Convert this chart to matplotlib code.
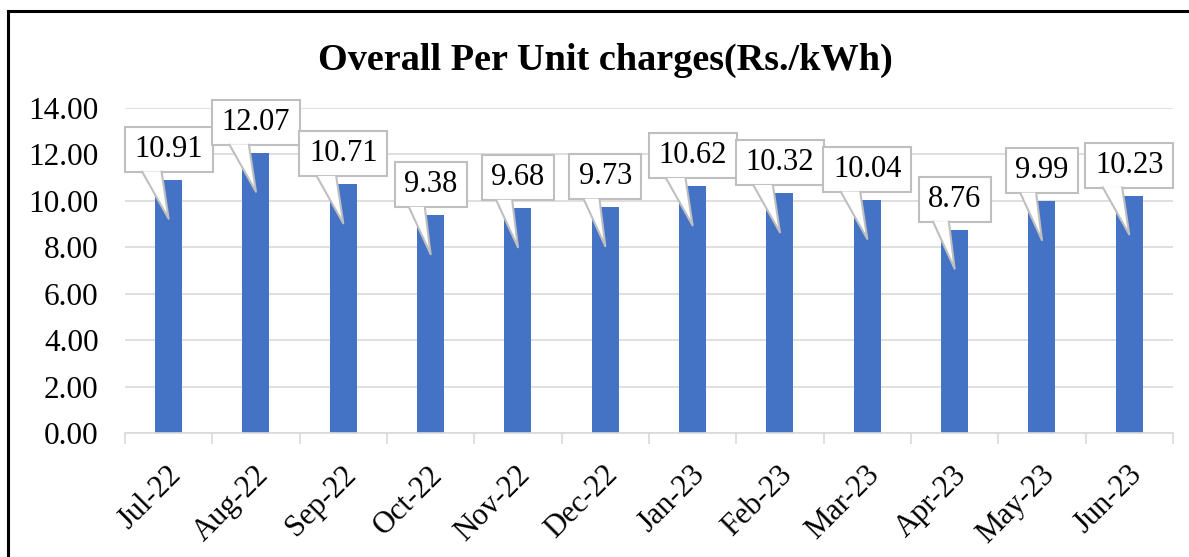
import matplotlib.pyplot as plt
import matplotlib.transforms as mtransforms
from matplotlib.patches import Rectangle, Polygon
from matplotlib.lines import Line2D

# data
months = ['Jul-22', 'Aug-22', 'Sep-22', 'Oct-22', 'Nov-22', 'Dec-22',
          'Jan-23', 'Feb-23', 'Mar-23', 'Apr-23', 'May-23', 'Jun-23']
charges = [10.91, 12.07, 10.71, 9.38, 9.68, 9.73,
           10.62, 10.32, 10.04, 8.76, 9.99, 10.23]
yticks = [0, 2, 4, 6, 8, 10, 12, 14]

plt.rcParams['font.family'] = 'Liberation Serif'

fig = plt.figure(figsize=(11.89, 5.57), dpi=100)
ax = fig.add_axes([0.1051, 0.2226, 0.8814, 0.5835])

x = list(range(len(months)))
ax.bar(x, charges, width=0.31, color='#4472C4', zorder=2)

ax.set_xlim(-0.5, len(months) - 0.5)
ax.set_ylim(0, 14)
ax.set_yticks(yticks)
ax.set_yticklabels([f'{v:.2f}' for v in yticks], fontsize=22.5)
ax.tick_params(axis='y', length=0, pad=19)
ax.grid(axis='y', color='#D9D9D9', linewidth=1.2, zorder=0)
ax.set_axisbelow(True)

for s in ['top', 'right', 'left']:
    ax.spines[s].set_visible(False)
ax.spines['bottom'].set_color('#D9D9D9')
ax.spines['bottom'].set_linewidth(1.2)

# category boundary ticks
ax.set_xticks([i - 0.5 for i in range(len(months) + 1)], minor=True)
ax.tick_params(axis='x', which='minor', length=8, color='#D9D9D9', width=1.2)
ax.set_xticks(x)
ax.set_xticklabels(months, rotation=45, ha='right', va='center',
                   rotation_mode='anchor', fontsize=22)
ax.tick_params(axis='x', which='major', length=0, pad=27)
shift = mtransforms.ScaledTranslation(8 / 100, 0, fig.dpi_scale_trans)
for lbl in ax.get_xticklabels():
    lbl.set_transform(lbl.get_transform() + shift)

# callout data labels
ypx = 325 / 14.0
xpx = 1047 / 12.0
for xi, v in zip(x, charges):
    label = f'{v:.2f}'
    w = (88 if len(label) == 5 else 72) / xpx
    h = 45 / ypx
    bottom = v + 8 / ypx
    tip = v - 39 / ypx
    box = Rectangle((xi - w / 2, bottom), w, h, facecolor='white',
                    edgecolor='#BFBFBF', linewidth=1.5, zorder=4, clip_on=False)
    ax.add_patch(box)
    b1 = xi - 0.3 * w
    b2 = xi - 0.08 * w
    wedge = Polygon([(b1, bottom + 0.02), (xi, tip), (b2, bottom + 0.02)],
                    closed=True, facecolor='white', edgecolor='none',
                    zorder=5, clip_on=False)
    ax.add_patch(wedge)
    ax.plot([b1, xi, b2], [bottom, tip, bottom], color='#BFBFBF',
            linewidth=1.5, zorder=6, clip_on=False)
    ax.text(xi, bottom + h / 2, label, ha='center', va='center',
            fontsize=22, zorder=7)

fig.text(0.509, 1 - 70 / 557, 'Overall Per Unit charges(Rs./kWh)',
         ha='center', va='baseline', fontsize=27.5, fontweight='bold')

# outer frame (top and left visible)
fig.add_artist(Line2D([8 / 1189, 8 / 1189], [0, 1 - 11 / 557],
                      color='black', linewidth=2.2))
fig.add_artist(Line2D([8 / 1189, 1], [1 - 11 / 557, 1 - 11 / 557],
                      color='black', linewidth=2.2))

fig.savefig('out.png', dpi=100)
